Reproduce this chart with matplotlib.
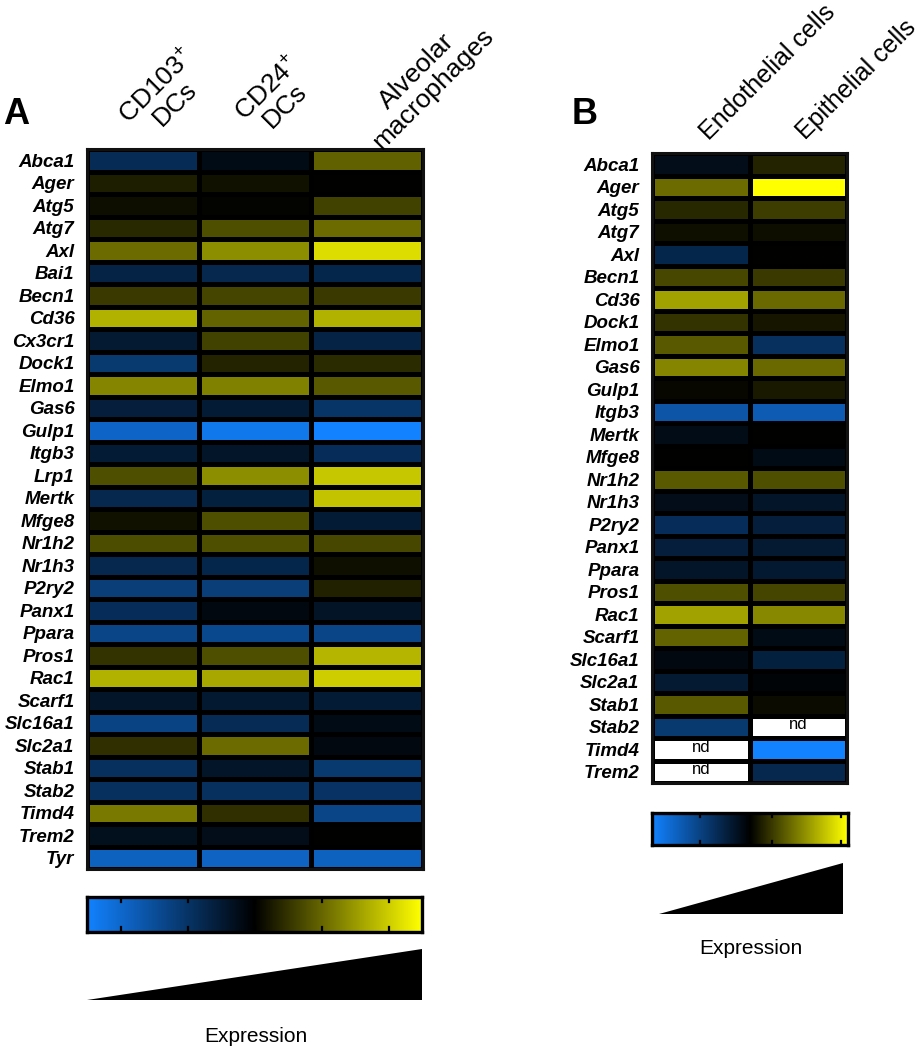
import numpy as np
import matplotlib
matplotlib.use("Agg")
import matplotlib.pyplot as plt
from matplotlib.colors import LinearSegmentedColormap

plt.rcParams['font.family'] = ['Liberation Sans', 'DejaVu Sans']
plt.rcParams['mathtext.fontset'] = 'custom'
plt.rcParams['mathtext.rm'] = 'Liberation Sans'
plt.rcParams['mathtext.it'] = 'Liberation Sans:italic'
plt.rcParams['mathtext.bf'] = 'Liberation Sans:bold'

# ---------------- data ----------------
genes_a = ["Abca1", "Ager", "Atg5", "Atg7", "Axl", "Bai1", "Becn1", "Cd36", "Cx3cr1",
           "Dock1", "Elmo1", "Gas6", "Gulp1", "Itgb3", "Lrp1", "Mertk", "Mfge8", "Nr1h2",
           "Nr1h3", "P2ry2", "Panx1", "Ppara", "Pros1", "Rac1", "Scarf1", "Slc16a1",
           "Slc2a1", "Stab1", "Stab2", "Timd4", "Trem2", "Tyr"]
cols_a = ["CD103$^{+}$\nDCs", "CD24$^{+}$\nDCs", "Alveolar\nmacrophages"]
cd103_dcs = [-0.33, 0.11, 0.05, 0.16, 0.42, -0.27, 0.22, 0.69, -0.20, -0.43, 0.52, -0.23,
             -0.78, -0.21, 0.31, -0.31, 0.07, 0.30, -0.31, -0.47, -0.35, -0.53, 0.20, 0.69,
             -0.16, -0.51, 0.18, -0.37, -0.37, 0.47, -0.11, -0.75]
cd24_dcs = [-0.08, 0.07, 0.01, 0.31, 0.55, -0.31, 0.27, 0.39, 0.25, 0.14, 0.50, -0.21,
            -0.92, -0.16, 0.55, -0.25, 0.31, 0.31, -0.29, -0.47, -0.06, -0.55, 0.31, 0.65,
            -0.19, -0.33, 0.42, -0.16, -0.37, 0.18, -0.10, -0.76]
alv_macro = [0.38, 0.00, 0.25, 0.42, 0.86, -0.29, 0.22, 0.69, -0.27, 0.17, 0.35, -0.40,
             -1.00, -0.35, 0.78, 0.76, -0.21, 0.28, 0.06, 0.13, -0.15, -0.53, 0.71, 0.80,
             -0.21, -0.08, -0.06, -0.43, -0.39, -0.53, 0.00, -0.75]

genes_b = ["Abca1", "Ager", "Atg5", "Atg7", "Axl", "Becn1", "Cd36", "Dock1", "Elmo1",
           "Gas6", "Gulp1", "Itgb3", "Mertk", "Mfge8", "Nr1h2", "Nr1h3", "P2ry2", "Panx1",
           "Ppara", "Pros1", "Rac1", "Scarf1", "Slc16a1", "Slc2a1", "Stab1", "Stab2",
           "Timd4", "Trem2"]
cols_b = ["Endothelial cells", "Epithelial cells"]
nan = np.nan
endothelial = [-0.10, 0.42, 0.15, 0.06, -0.29, 0.28, 0.63, 0.20, 0.35, 0.52, 0.03, -0.65,
               -0.09, 0.00, 0.35, -0.10, -0.35, -0.23, -0.16, 0.31, 0.63, 0.39, -0.06,
               -0.20, 0.35, -0.43, nan, nan]
epithelial = [0.14, 1.00, 0.24, 0.05, 0.00, 0.22, 0.41, 0.08, -0.37, 0.41, 0.10, -0.70,
              0.00, -0.08, 0.31, -0.16, -0.23, -0.20, -0.19, 0.27, 0.53, -0.08, -0.25,
              -0.03, 0.04, nan, -1.00, -0.31]

# ---------------- figure ----------------
W, H = 923, 1050
fig = plt.figure(figsize=(W / 100, H / 100), dpi=100)

def rect(x0, y0, x1, y1):
    return [x0 / W, 1 - y1 / H, (x1 - x0) / W, (y1 - y0) / H]

def fpos(x, y):
    return (x / W, 1 - y / H)

cmap = LinearSegmentedColormap.from_list("by", [(0, "#1282FF"), (0.5, "#000000"), (1, "#FFFF00")])
cmap.set_bad("white")

def heatmap(pos, genes, series):
    ax = fig.add_axes(pos)
    data = np.ma.masked_invalid(np.array(series, dtype=float).T)
    mask = np.ma.getmaskarray(data)
    ax.set_facecolor("black")
    ax.pcolormesh(data, cmap=cmap, vmin=-1, vmax=1, edgecolors="black", linewidth=2.3)
    ax.set_xlim(0, data.shape[1])
    ax.set_ylim(data.shape[0], 0)
    ax.set_xticks([])
    ax.set_yticks(np.arange(len(genes)) + 0.5)
    ax.set_yticklabels(genes, fontsize=13.5, fontweight="bold", fontstyle="italic")
    ax.tick_params(axis="y", length=0, pad=9)
    for s in ax.spines.values():
        s.set_color("#111111")
        s.set_linewidth(2.2)
    for i in range(data.shape[0]):
        for j in range(data.shape[1]):
            if mask[i, j]:
                ax.text(j + 0.5, i + 0.42, "nd", ha="center", va="center", fontsize=12)
    return ax

ax_a = heatmap(rect(87, 149, 423, 869), genes_a, [cd103_dcs, cd24_dcs, alv_macro])
ax_b = heatmap(rect(652, 153, 847, 783), genes_b, [endothelial, epithelial])

# column headers
for lab, (x, y) in zip(cols_a, [(166, 95), (276, 97), (425, 80)]):
    fig.text(*fpos(x, y), lab, rotation=45, ha="center", va="center", fontsize=19,
             multialignment="center", linespacing=1.0)
for lab, (x, y) in zip(cols_b, [(768, 72), (856, 80)]):
    fig.text(*fpos(x, y), lab, rotation=45, ha="center", va="center", fontsize=18)

# panel letters
fig.text(*fpos(3, 124), "A", fontsize=26, fontweight="bold", ha="left", va="baseline")
fig.text(*fpos(572, 124), "B", fontsize=26, fontweight="bold", ha="left", va="baseline")

# colour bars
def colorbar(pos, ticks):
    ax = fig.add_axes(pos)
    grad = np.linspace(-1, 1, 256)[None, :]
    ax.imshow(grad, cmap=cmap, vmin=-1, vmax=1, aspect="auto", extent=[0, 1, 0, 1])
    for t in ticks:
        ax.plot([t, t], [0, 0.13], color="black", lw=1.6)
        ax.plot([t, t], [0.87, 1], color="black", lw=1.6)
    ax.set_xlim(0, 1)
    ax.set_ylim(0, 1)
    ax.set_xticks([])
    ax.set_yticks([])
    for s in ax.spines.values():
        s.set_color("black")
        s.set_linewidth(2.4)

colorbar(rect(87, 897, 422, 932), [0.1, 0.3, 0.5, 0.7, 0.9])
colorbar(rect(652, 813, 848, 845), [0.245, 0.61, 0.965])

# expression wedges
def wedge(pos):
    ax = fig.add_axes(pos)
    ax.fill([0, 1, 1], [0, 0, 1], color="black", lw=0)
    ax.set_xlim(0, 1)
    ax.set_ylim(0, 1)
    ax.axis("off")

wedge(rect(87, 949, 422, 1000))
wedge(rect(659, 863, 843, 914))

fig.text(*fpos(256, 1037), "Expression", ha="center", va="center", fontsize=15)
fig.text(*fpos(751, 949), "Expression", ha="center", va="center", fontsize=15)

fig.savefig("out.png", dpi=100)
